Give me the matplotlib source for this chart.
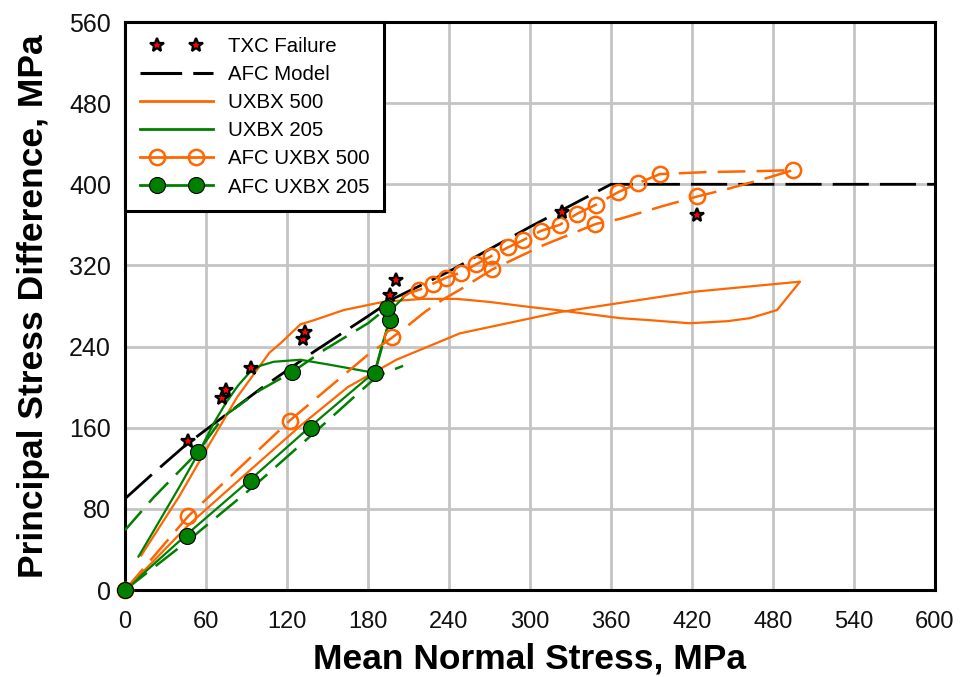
import numpy as np
import matplotlib
matplotlib.use('Agg')
import matplotlib.pyplot as plt
from matplotlib.lines import Line2D
from matplotlib.legend_handler import HandlerLine2D
from matplotlib import font_manager

nan = np.nan

# ---------------- data ----------------
# TXC failure points
txc_x = [47, 72, 75, 93, 132, 133, 196, 201, 324, 424]
txc_y = [147, 189, 197, 219, 247, 254, 291, 306, 373, 370]

# AFC model failure surface
afc_x = [0, 20, 45, 62, 100, 140, 180, 200, 240, 300, 340, 360, 600]
afc_y = [90, 114, 143, 160, 198, 235, 270, 288, 314, 358, 386, 400, 400]

# UXBX 500 simulation path
u500_x = [0, 20, 47, 90, 130, 165, 201, 248, 322, 421, 500, 483, 463, 446, 418,
          389, 367, 320, 300, 270, 246, 220, 191, 162, 140, 130, 115, 107, 83, 60, 40, 12]
u500_y = [0, 27, 64, 115, 162, 200, 227, 253, 274, 294, 304, 276, 268, 265, 263,
          266, 268, 276, 279, 284, 287, 287, 284, 276, 266, 262, 243, 234, 190, 138, 92, 34]

# UXBX 205 simulation path
u205_x = [0, 46, 93, 138, 185, 190, 196, 200, 206, nan,
          10, 18, 40, 54, 66, 75, 84, 92, 100, 110, 130, 152, 185]
u205_y = [0, 55, 109, 162, 215, 240, 266, 280, 288, nan,
          33, 51, 101, 134, 165, 185, 202, 214, 221, 225, 227, 222, 214]

# AFC UXBX 500 path and its marker points
a500_x = [0, 47, 122, 180, 198, 208, 222, 235, 248, 272, 310, 349, 367, 397, 424, 448, 475, 495,
          470, 430, 396, 380, 365, 349, 335, 322, 308, 295, 284, 271, 260, 249, 238, 228, 218, 211, 205]
a500_y = [0, 73, 167, 232, 249, 259, 274, 286, 296, 316, 340, 361, 366, 378, 388, 396, 406, 414,
          413, 412, 410, 401, 392, 380, 371, 360, 354, 345, 338, 329, 321, 313, 308, 302, 296, 293, 288]
a500_mx = [0, 47, 122, 198, 272, 348, 424, 495, 396, 380, 365, 349, 335, 322, 308, 295, 284,
           271, 260, 249, 238, 228, 218]
a500_my = [0, 73, 167, 249, 316, 361, 388, 414, 410, 401, 392, 380, 371, 360, 354, 345, 338,
           329, 321, 313, 308, 302, 296]

# AFC UXBX 205 path and its marker points
a205_x = [0, 48, 96, 141, 187, 206, nan, 185, 196, 194, 180, 148, 124, 100, 73, 54, 21, 0]
a205_y = [0, 50, 103, 156, 211, 221, nan, 214, 266, 278, 263, 237, 215, 197, 171, 136, 91, 59]
a205_mx = [0, 46, 93, 138, 185, 196, 194, 124, 54]
a205_my = [0, 53, 107, 160, 214, 266, 278, 215, 136]

x_ticks = [0, 60, 120, 180, 240, 300, 360, 420, 480, 540, 600]
y_ticks = [0, 80, 160, 240, 320, 400, 480, 560]

# ---------------- styling ----------------
plt.rcParams['font.family'] = ['Liberation Sans', 'DejaVu Sans']
plt.rcParams['lines.scale_dashes'] = False

names = {f.name for f in font_manager.fontManager.ttflist}
NARROW = 'Liberation Sans Narrow' if 'Liberation Sans Narrow' in names else 'Liberation Sans'

ORANGE = '#ff6600'
GREEN = '#008000'

fig = plt.figure(figsize=(9.61, 6.77), dpi=100)
ax = fig.add_axes([125 / 961, 87 / 677, 810 / 961, 568 / 677])

ax.set_xlim(0, 600)
ax.set_ylim(0, 560)
ax.set_xticks(x_ticks)
ax.set_yticks(y_ticks)
ax.grid(True, color='#c4c4c4', lw=2.0, zorder=0)
ax.set_axisbelow(True)
ax.tick_params(length=0, colors='#111111')
ax.tick_params(axis='x', pad=15)
ax.tick_params(axis='y', pad=10, labelsize=18)
for lab in ax.get_xticklabels():
    lab.set_family(NARROW)
    lab.set_fontsize(20 if NARROW != 'Liberation Sans' else 17)
for s in ax.spines.values():
    s.set_linewidth(2.2)
    s.set_color('black')

ax.set_xlabel('Mean Normal Stress, MPa', fontsize=25.5, fontweight='bold', labelpad=7)
ax.set_ylabel('Principal Stress Difference, MPa', fontsize=25.5, fontweight='bold', labelpad=14)

dash_blk = (0, (26, 8))
dash_col = (0, (20, 8))

ax.plot(afc_x, afc_y, color='black', lw=2.0, linestyle=dash_blk, zorder=3)
ax.plot(u500_x, u500_y, color=ORANGE, lw=1.6, zorder=4)
ax.plot(u205_x, u205_y, color=GREEN, lw=1.6, zorder=4)
ax.plot(a500_x, a500_y, color=ORANGE, lw=1.8, linestyle=dash_col, zorder=5)
ax.plot(a205_x, a205_y, color=GREEN, lw=1.8, linestyle=dash_col, zorder=5)
ax.plot(a500_mx, a500_my, linestyle='none', marker='o', ms=11, mfc='none',
        mec=ORANGE, mew=1.8, zorder=6, clip_on=False)
ax.plot(a205_mx, a205_my, linestyle='none', marker='o', ms=11.5, mfc=GREEN,
        mec='black', mew=0.8, zorder=7, clip_on=False)
ax.plot(txc_x, txc_y, linestyle='none', marker='*', ms=10, mfc='red',
        mec='black', mew=1.6, zorder=8)


class SplitHandler(HandlerLine2D):
    def create_artists(self, legend, orig_handle, xdescent, ydescent, width,
                       height, fontsize, trans):
        y = (height - ydescent) / 2
        x0, x1 = -xdescent, -xdescent + width
        line = Line2D([x0, x1], [y, y])
        self.update_prop(line, orig_handle, legend)
        line.set_marker('None')
        mk = Line2D([x0 + 0.24 * width, x1 - 0.24 * width], [y, y])
        self.update_prop(mk, orig_handle, legend)
        mk.set_linestyle('None')
        line.set_transform(trans)
        mk.set_transform(trans)
        return [line, mk]


h_txc = Line2D([], [], linestyle='none', marker='*', ms=10, mfc='red', mec='black', mew=1.6)
h_afc = Line2D([], [], color='black', lw=2.2, linestyle=(0, (30, 8)))
h_u500 = Line2D([], [], color=ORANGE, lw=2)
h_u205 = Line2D([], [], color=GREEN, lw=2)
h_a500 = Line2D([], [], color=ORANGE, lw=2, marker='o', ms=11, mfc='none', mec=ORANGE, mew=1.8)
h_a205 = Line2D([], [], color=GREEN, lw=2, marker='o', ms=11.5, mfc=GREEN, mec='black', mew=0.8)
handles = [h_txc, h_afc, h_u500, h_u205, h_a500, h_a205]
labels = ['TXC Failure', 'AFC Model', 'UXBX 500', 'UXBX 205', 'AFC UXBX 500', 'AFC UXBX 205']

leg = ax.legend(handles, labels, loc='upper left', bbox_to_anchor=(0, 1),
                borderaxespad=0, fontsize=14.7, handlelength=3.6, handletextpad=0.72,
                labelspacing=0.45, borderpad=0.72, fancybox=False, framealpha=1,
                edgecolor='black', handler_map={h: SplitHandler() for h in handles})
leg.get_frame().set_linewidth(2.2)
leg.set_zorder(20)

fig.savefig('out.png', dpi=100, facecolor='white')
